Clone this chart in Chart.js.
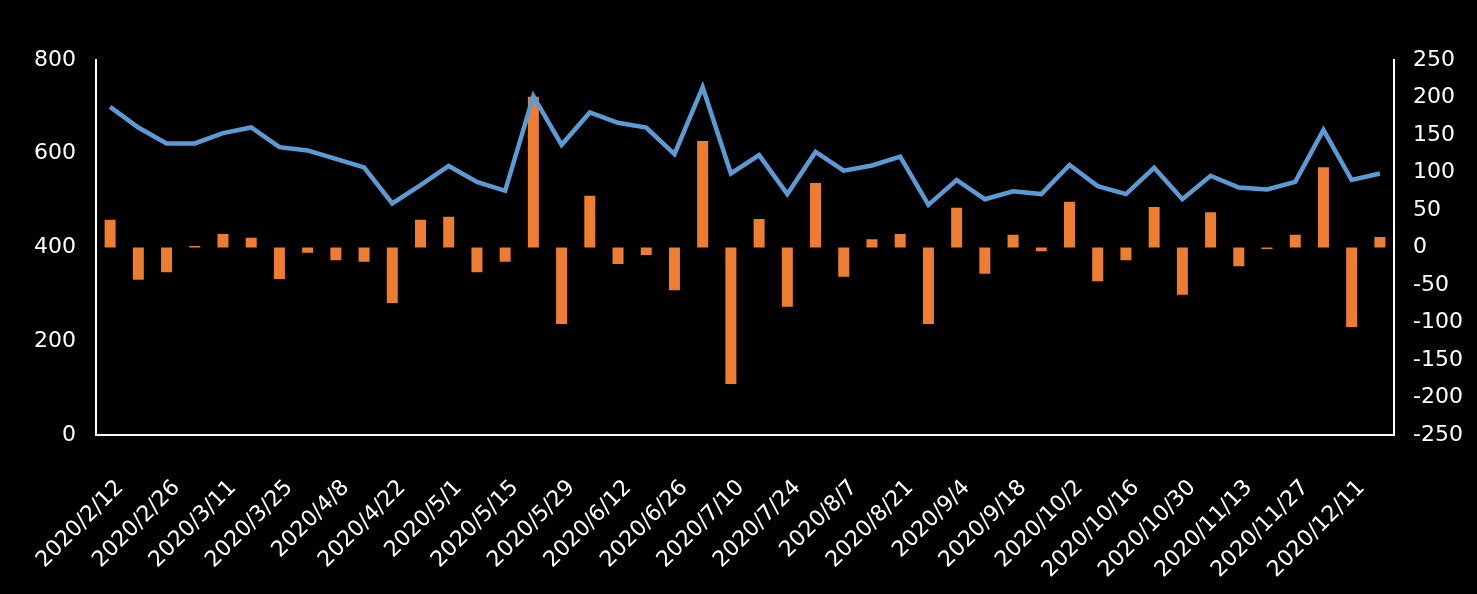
<!DOCTYPE html>
<html>
<head>
<meta charset="utf-8">
<script src="https://cdn.jsdelivr.net/npm/chart.js@4/dist/chart.umd.min.js"></script>
<style>
    html, body { margin: 0; padding: 0; background: #000; }
    #wrap { width: 1477px; height: 594px; position: relative; }
</style>
</head>
<body>
<div id="wrap"><canvas id="myChart"></canvas></div>
<script>
// weekly dates (only every other one is shown on the axis)
const categories = [
    '2020/2/12', '2020/2/19', '2020/2/26', '2020/3/4', '2020/3/11', '2020/3/18',
    '2020/3/25', '2020/4/1', '2020/4/8', '2020/4/15', '2020/4/22', '2020/4/29',
    '2020/5/1', '2020/5/8', '2020/5/15', '2020/5/22', '2020/5/29', '2020/6/5',
    '2020/6/12', '2020/6/19', '2020/6/26', '2020/7/3', '2020/7/10', '2020/7/17',
    '2020/7/24', '2020/7/31', '2020/8/7', '2020/8/14', '2020/8/21', '2020/8/28',
    '2020/9/4', '2020/9/11', '2020/9/18', '2020/9/25', '2020/10/2', '2020/10/9',
    '2020/10/16', '2020/10/23', '2020/10/30', '2020/11/6', '2020/11/13', '2020/11/20',
    '2020/11/27', '2020/12/4', '2020/12/11', '2020/12/18'
];
// line, left axis
const lineValues = [
    700, 656, 622, 622, 644, 656, 614, 607, 589, 571, 494, 533,
    574, 540, 521, 723, 619, 688, 666, 656, 599, 742, 558, 597,
    514, 604, 564, 575, 594, 491, 544, 503, 520, 514, 576, 531,
    514, 570, 503, 553, 528, 524, 540, 651, 544, 558
];
// bars, right axis (weekly change)
const barValues = [
    37, -43, -33, 2, 18, 13, -42, -7, -17, -19, -74, 37,
    41, -33, -19, 201, -102, 69, -22, -10, -57, 142, -182, 38,
    -79, 86, -39, 11, 18, -102, 53, -35, 17, -5, 61, -45,
    -17, 54, -63, 47, -25, -2, 17, 107, -106, 14
];
const leftTicks = [0, 800, 200];
const rightTicks = [-250, 250, 50];

function drawChart() {
    const fontSpec = { family: 'DejaVu Sans', size: 22 };
    const ctx = document.getElementById('myChart').getContext('2d');
    new Chart(ctx, {
        type: 'bar',
        data: {
            labels: categories,
            datasets: [{
                type: 'line',
                data: lineValues,
                yAxisID: 'y',
                borderColor: '#5B9BD5',
                borderWidth: 4.5,
                pointRadius: 0,
                tension: 0,
                order: 0
            }, {
                type: 'bar',
                data: barValues,
                yAxisID: 'y1',
                backgroundColor: '#ED7D31',
                barPercentage: 0.39,
                categoryPercentage: 1,
                order: 1
            }]
        },
        options: {
            responsive: true,
            maintainAspectRatio: false,
            animation: false,
            layout: { padding: { top: 60, left: 0, right: 0, bottom: 0 } },
            plugins: { legend: { display: false }, tooltip: { enabled: false } },
            scales: {
                x: {
                    offset: true,
                    grid: { display: false, drawTicks: false },
                    border: { display: true, color: '#fff', width: 2 },
                    ticks: {
                        color: '#fff',
                        font: fontSpec,
                        autoSkip: false,
                        minRotation: 45,
                        maxRotation: 45,
                        padding: 40,
                        labelOffset: 10,
                        callback: function (value, index) {
                            return index % 2 === 0 ? categories[index] : '';
                        }
                    },
                    afterFit: function (scale) {
                        scale.height = 159;
                        scale.paddingLeft = 0;
                        scale.paddingRight = 0;
                    }
                },
                y: {
                    position: 'left',
                    min: leftTicks[0],
                    max: leftTicks[1],
                    grid: { display: false, drawTicks: false },
                    border: { display: true, color: '#fff', width: 2 },
                    ticks: { color: '#fff', font: fontSpec, stepSize: leftTicks[2], padding: 20 },
                    afterFit: function (scale) { scale.width = 96; }
                },
                y1: {
                    position: 'right',
                    min: rightTicks[0],
                    max: rightTicks[1],
                    grid: { display: false, drawTicks: false },
                    border: { display: true, color: '#fff', width: 2 },
                    ticks: { color: '#fff', font: fontSpec, stepSize: rightTicks[2], padding: 19 },
                    afterFit: function (scale) { scale.width = 83; }
                }
            }
        }
    });
}
window.addEventListener('DOMContentLoaded', function () {
    drawChart();
})
</script>
</body>
</html>
